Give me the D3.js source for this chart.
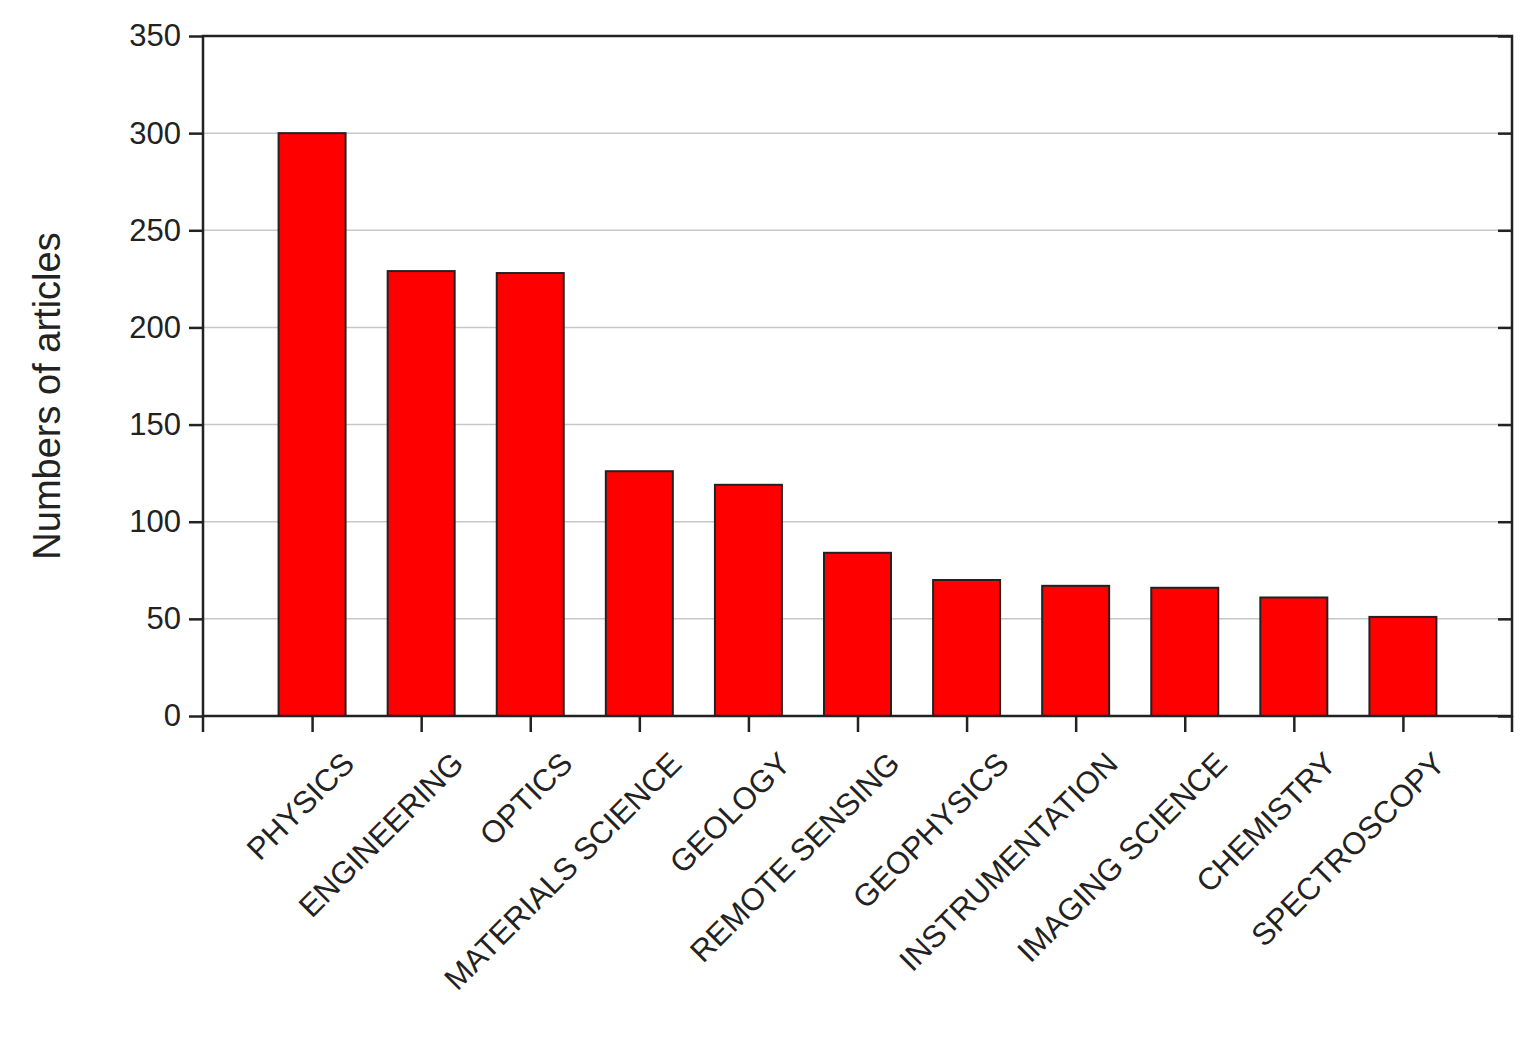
<!DOCTYPE html>
<html><head><meta charset="utf-8">
<script src="https://cdn.jsdelivr.net/npm/d3@7"></script>
<style>body{margin:0;background:#fff}text{font-family:"Liberation Sans",Arial,sans-serif}</style>
</head><body><svg id="chart" width="1539" height="1063"></svg>
<script>
const categories = ["PHYSICS","ENGINEERING","OPTICS","MATERIALS SCIENCE","GEOLOGY","REMOTE SENSING","GEOPHYSICS","INSTRUMENTATION","IMAGING SCIENCE","CHEMISTRY","SPECTROSCOPY"];
const articles = [300, 229, 228, 126, 119, 84, 70, 67, 66, 61, 51];
const yTicks = [0, 50, 100, 150, 200, 250, 300, 350];

const plotL = 203, plotR = 1512, plotT = 36, plotB = 716;
const svg = d3.select("#chart");
const x = d3.scalePoint().domain(categories).range([plotL, plotR]).padding(1);
const y = d3.scaleLinear().domain([0, 350]).range([plotB, plotT]);
const barW = 67;

// grid
svg.selectAll("line.grid").data(yTicks.slice(1, -1)).enter().append("line")
  .attr("x1", plotL).attr("x2", plotR).attr("y1", d => y(d)).attr("y2", d => y(d))
  .style("stroke", "#c8c8c8").style("stroke-width", 1.5);

svg.selectAll("rect.bar").data(articles).enter().append("rect")
  .attr("x", (d, i) => x(categories[i]) - barW / 2)
  .attr("y", d => y(d)).attr("width", barW).attr("height", d => plotB - y(d))
  .style("fill", "#ff0000").style("stroke", "#222").style("stroke-width", 2);

// frame
svg.append("rect").attr("x", plotL).attr("y", plotT).attr("width", plotR - plotL).attr("height", plotB - plotT)
  .style("fill", "none").style("stroke", "#222").style("stroke-width", 2.5);

const yAxis = svg.append("g").attr("transform", `translate(${plotL},0)`)
  .call(d3.axisLeft(y).tickValues(yTicks).tickSize(14).tickPadding(8));
yAxis.select(".domain").remove();
yAxis.selectAll("line").style("stroke", "#222").style("stroke-width", 2.5);
yAxis.selectAll("text").style("font-size", "31px").style("fill", "#222");

const yRight = svg.append("g").attr("transform", `translate(${plotR},0)`)
  .call(d3.axisLeft(y).tickValues(yTicks).tickSize(14).tickFormat(""));
yRight.select(".domain").remove();
yRight.selectAll("line").style("stroke", "#222").style("stroke-width", 2.5);

const xAxis = svg.append("g").attr("transform", `translate(0,${plotB})`)
  .call(d3.axisBottom(x).tickSize(16).tickPadding(10));
xAxis.select(".domain").remove();
xAxis.selectAll("line").style("stroke", "#222").style("stroke-width", 2.5);
xAxis.selectAll("text").style("font-size", "31px").style("fill", "#222")
  .attr("text-anchor", "end").attr("dy", "0.6em")
  .attr("transform", "translate(12,18) rotate(-45)");
[plotL, plotR].forEach(px => svg.append("line").attr("x1", px).attr("x2", px)
  .attr("y1", plotB).attr("y2", plotB + 16).style("stroke", "#222").style("stroke-width", 2.5));

svg.append("text").attr("transform", `translate(60,${(plotT + plotB) / 2 + 20}) rotate(-90)`)
  .attr("text-anchor", "middle").style("font-size", "38px").style("fill", "#222")
  .text("Numbers of articles");
</script></body></html>
